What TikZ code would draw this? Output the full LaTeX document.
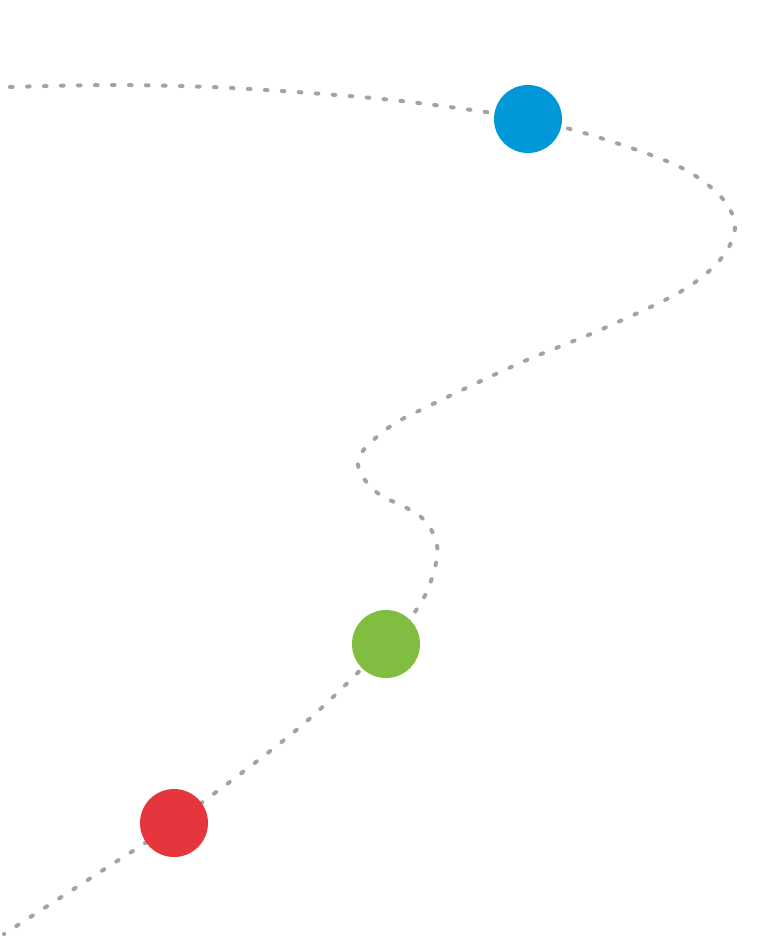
\documentclass[tikz,border=0pt]{standalone}
\definecolor{dotgray}{HTML}{A3A3A3}
\definecolor{stopblue}{HTML}{0098D6}
\definecolor{stopgreen}{HTML}{80BD41}
\definecolor{stopred}{HTML}{E6363D}
\tikzset{
  trail/.style={dotgray, line width=4pt, line cap=round, dash pattern=on 2.6pt off 14.4pt},
  stopdot/.style={circle, minimum size=68pt, inner sep=0pt}
}
\begin{document}
\begin{tikzpicture}[x=1pt, y=-1pt]
            \useasboundingbox (0,0) rectangle (784,950);
            % stops along the trail
            \coordinate (pblue) at (528,119);
            \coordinate (pgreen) at (386,644);
            \coordinate (pred) at (174,823);
            \coordinate (tstart) at (10,87);
            \coordinate (tend) at (4,934);
            % dotted trail
            \draw[trail] plot[smooth, tension=0.55] coordinates {
              (tstart) (110,85) (210,87) (310,93) (410,102) (pblue)
              (610,141) (682,168) (722,198) (735,228) (720,260) (680,292)
              (600,330) (520,363) (433,404) (388,428) (358,460) (375,491)
              (420,516) (437,545) (432,578) (417,609) (pgreen)
              (300,727) (pred) (100,872) (tend)};
            % circles
            \node[stopdot, fill=stopblue] (blue) at (pblue) {};
            \node[stopdot, fill=stopgreen] (green) at (pgreen) {};
            \node[stopdot, fill=stopred] (red) at (pred) {};
        \end{tikzpicture}
\end{document}
